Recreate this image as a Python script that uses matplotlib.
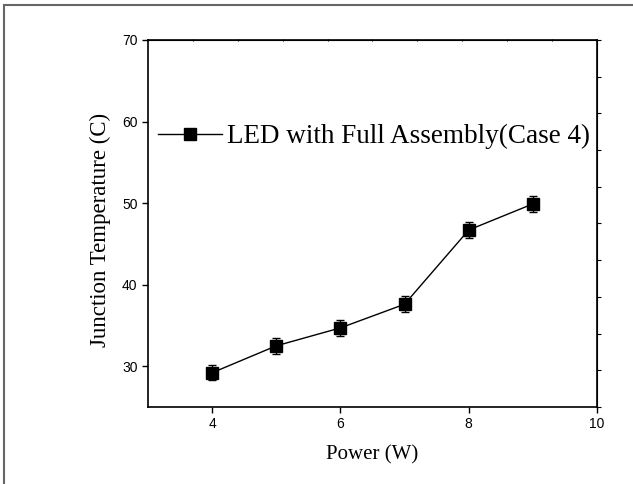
import matplotlib.pyplot as plt
import numpy as np
from matplotlib.patches import Rectangle
from matplotlib.lines import Line2D

power = [4, 5, 6, 7, 8, 9]
temp = [29.2, 32.5, 34.7, 37.6, 46.7, 49.9]
temp_err = [0.9, 1.0, 1.0, 1.0, 1.0, 1.0]
series_label = "LED with Full Assembly(Case 4)"
x_ticks = [4, 6, 8, 10]
y_ticks = [30, 40, 50, 60, 70]

serif = ['Liberation Serif', 'DejaVu Serif']
sans = ['Liberation Sans', 'DejaVu Sans']

fig = plt.figure(figsize=(6.33, 4.84), dpi=100)
ax = fig.add_axes([0.2338, 0.1591, 0.7093, 0.7583])

ax.errorbar(power, temp, yerr=temp_err, color='black', marker='s',
            markersize=8, linewidth=1.0, elinewidth=1.0, capsize=3,
            capthick=1.0)

ax.set_xlim(3, 10)
ax.set_ylim(25, 70)
ax.set_xticks(x_ticks)
ax.set_yticks(y_ticks)
ax.tick_params(direction='out', length=4, width=1, labelsize=10)
for lab in ax.get_xticklabels() + ax.get_yticklabels():
    lab.set_family(sans)

# unlabeled ticks on top and right, as in the original
top = ax.secondary_xaxis('top')
top.set_xticks(np.linspace(3, 10, 11))
top.tick_params(direction='inout', length=2, width=0.8, labeltop=False)
right = ax.secondary_yaxis('right')
right.set_yticks(np.linspace(25, 70, 11))
right.tick_params(direction='out', length=3, width=0.8, labelright=False)

for sp in ax.spines.values():
    sp.set_linewidth(1.2)

ax.set_xlabel("Power (W)", family=serif, fontsize=15, labelpad=10)
ax.set_ylabel("Junction Temperature (C)", family=serif, fontsize=16.5)
ax.yaxis.set_label_coords(-0.083, 0.482)

handle = Line2D([], [], color='black', marker='s', markersize=8, linewidth=1.0)
ax.legend([handle], [series_label], loc='center left',
          bbox_to_anchor=(0.022, 0.736), frameon=False,
          prop={'family': serif, 'size': 19.5}, borderpad=0, borderaxespad=0,
          handlelength=2.35, handletextpad=0.22)

fig.add_artist(Rectangle((4 / 633, -0.1), 1.2, 1.1 - 5 / 484,
                         transform=fig.transFigure, fill=False,
                         edgecolor='#666666', linewidth=1.5))

fig.savefig("out.png", dpi=100)
